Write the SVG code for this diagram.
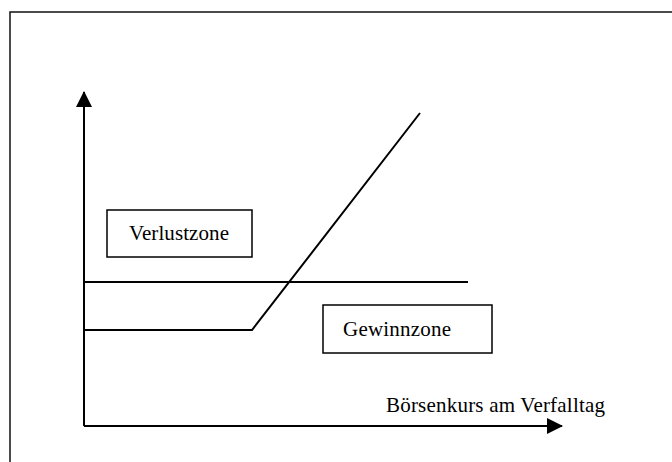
<svg xmlns="http://www.w3.org/2000/svg" width="672" height="462" viewBox="0 0 672 462">
  <style>
    .frame { fill: none; stroke: #111; stroke-width: 1.5; }
    .line { fill: none; stroke: #000; stroke-width: 2; }
    .box { fill: #fff; stroke: #000; stroke-width: 1.5; }
    .lbl { font-family: "Liberation Serif", "Times New Roman", serif; font-size: 21px; fill: #000; }
  </style>
  <defs>
    <marker id="arrow" viewBox="0 0 16 16" refX="15" refY="8" markerWidth="16" markerHeight="16" markerUnits="userSpaceOnUse" orient="auto">
      <path d="M0,0 L16,8 L0,16 Z" fill="#000"/>
    </marker>
  </defs>
  <rect width="672" height="462" fill="#fff"/>
  <!-- outer frame -->
  <path class="frame" d="M10,462 V12 H680"/>

  <g id="connectors">
    <!-- axes -->
    <path id="y-axis" class="line" d="M84,426 V92" marker-end="url(#arrow)"/>
    <path id="x-axis" class="line" d="M84,426 H562" marker-end="url(#arrow)"/>
    <!-- horizontal reference line -->
    <path id="level" class="line" d="M84,282 H468"/>
    <!-- payoff profile -->
    <path id="payoff" class="line" d="M84,330 H252 L420,113"/>
  </g>

  <g id="verlustzone">
    <rect class="box" x="107" y="210" width="145" height="47"/>
    <text class="lbl" x="129" y="240" textLength="100">Verlustzone</text>
  </g>
  <g id="gewinnzone">
    <rect class="box" x="323" y="305" width="169" height="48"/>
    <text class="lbl" x="343" y="336" textLength="108">Gewinnzone</text>
  </g>
  <g id="x-label">
    <text class="lbl" x="386" y="412" textLength="219">Börsenkurs am Verfalltag</text>
  </g>
</svg>
